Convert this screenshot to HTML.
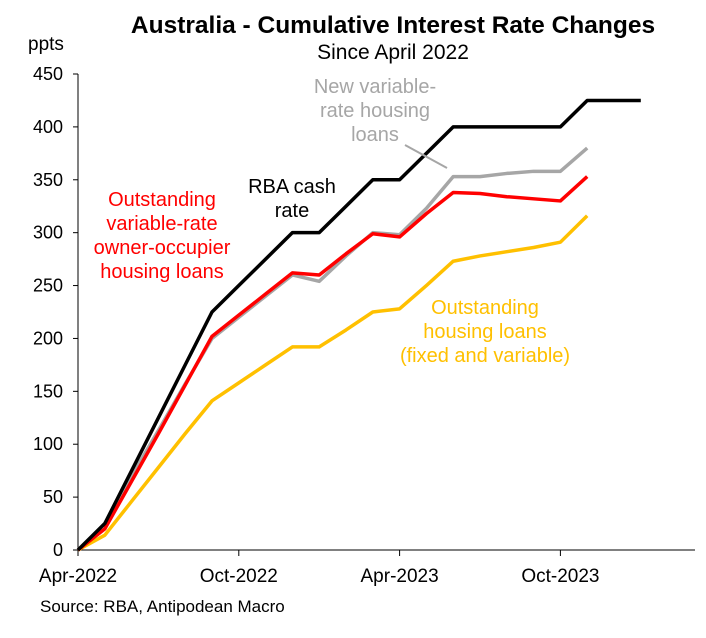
<!DOCTYPE html>
<html><head><meta charset="utf-8"><style>
body{margin:0;background:#fff;font-family:"Liberation Sans",Arial,sans-serif}
svg text{font-family:"Liberation Sans",Arial,sans-serif}
</style></head><body>
<svg id="c" width="706" height="633">
<text x="393" y="33" font-size="24.5" font-weight="bold" text-anchor="middle">Australia - Cumulative Interest Rate Changes</text>
<text x="393" y="59" font-size="21" text-anchor="middle">Since April 2022</text>
<text x="28" y="50" font-size="19">ppts</text>
<text x="40" y="612" font-size="17">Source: RBA, Antipodean Macro</text>
<g id="ax"></g><g id="lines"></g>
<text font-size="20" text-anchor="middle" fill="#000"><tspan x="292" y="193">RBA cash</tspan><tspan x="292" y="217">rate</tspan></text>
<text font-size="20" text-anchor="middle" fill="#ff0000"><tspan x="162" y="206">Outstanding</tspan><tspan x="162" y="230">variable-rate</tspan><tspan x="162" y="254">owner-occupier</tspan><tspan x="162" y="278">housing loans</tspan></text>
<text font-size="20" text-anchor="middle" fill="#a6a6a6"><tspan x="375" y="93">New variable-</tspan><tspan x="375" y="117">rate housing</tspan><tspan x="375" y="141">loans</tspan></text>
<line x1="405" y1="145" x2="447" y2="168" stroke="#a6a6a6" stroke-width="2"/>
<text font-size="20" text-anchor="middle" fill="#ffc000"><tspan x="485" y="314">Outstanding</tspan><tspan x="485" y="338">housing loans</tspan><tspan x="485" y="362">(fixed and variable)</tspan></text>
</svg>
<script>
const yTicks=[0,50,100,150,200,250,300,350,400,450];
const xTickLabels=["Apr-2022","Oct-2022","Apr-2023","Oct-2023"];
const xTickIdx=[0,6,12,18];
const rba=[0,25,75,125,175,225,250,275,300,300,325,350,350,375,400,400,400,400,400,425,425,425];
const gray=[0,25,70,113,157,200,220,240,260,254,278,300,298,323,353,353,356,358,358,380];
const red=[0,20,65,110,156,202,222,242,262,260,280,299,296,318,338,337,334,332,330,353];
const yellow=[0,14,46,78,110,141,158,175,192,192,208,225,228,250,273,278,282,286,291,316];
const X=i=>78+i*26.8, Y=v=>550-v*(476/450);
const ns="http://www.w3.org/2000/svg";
const ax=document.getElementById('ax'), lg=document.getElementById('lines');
function mk(tag,attrs,parent){const e=document.createElementNS(ns,tag);for(const k in attrs)e.setAttribute(k,attrs[k]);parent.appendChild(e);return e;}
let a=mk('line',{x1:78,y1:74,x2:78,y2:550,stroke:'#000','stroke-width':1},ax);


a=mk('line',{x1:78,y1:550,x2:695,y2:550,stroke:'#000','stroke-width':1},ax);


yTicks.forEach(v=>{const t=mk('text',{x:63,y:Y(v)+6,'font-size':18,'text-anchor':'end'},ax);t.textContent=v;


mk('line',{x1:73,x2:78,y1:Y(v),y2:Y(v),stroke:'#000'},ax);});
xTickLabels.forEach((s,k)=>{const x=X(xTickIdx[k]);mk('line',{x1:x,x2:x,y1:550,y2:556,stroke:'#000'},ax);
const t=mk('text',{x:x,y:582,'font-size':19,'text-anchor':'middle'},ax);t.textContent=s;

});
function line(d,c,name){const p=mk('polyline',{points:d.map((v,i)=>X(i)+','+Y(v)).join(' '),fill:'none',stroke:c,'stroke-width':3.5,'stroke-linejoin':'round'},lg);

}
line(yellow,'#ffc000','series-outstanding-housing');
line(gray,'#a6a6a6','series-new-variable');
line(red,'#ff0000','series-owner-occupier');
line(rba,'#000000','series-rba-cash-rate');
</script>
</body></html>
